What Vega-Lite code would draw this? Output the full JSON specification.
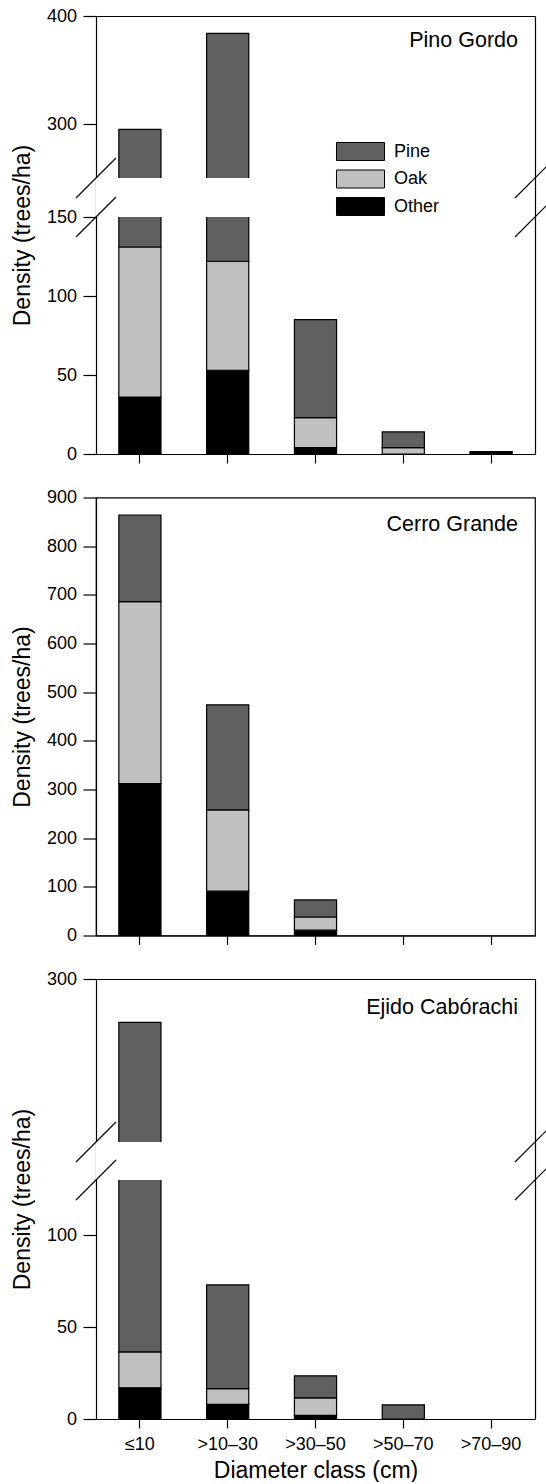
{
  "$schema": "https://vega.github.io/schema/vega-lite/v6.json",
  "padding": {"left": 10, "top": 7, "right": 0, "bottom": 0},
  "datasets": {
    "speciesinfo": [
      {"species": "Other", "stackrank": 1},
      {"species": "Oak", "stackrank": 2},
      {"species": "Pine", "stackrank": 3}
    ],
    "trees": [
      {"site": "Pino Gordo", "dclass": "≤10", "species": "Other", "density": 36},
      {"site": "Pino Gordo", "dclass": "≤10", "species": "Oak", "density": 95},
      {"site": "Pino Gordo", "dclass": "≤10", "species": "Pine", "density": 164},
      {"site": "Pino Gordo", "dclass": ">10–30", "species": "Other", "density": 53},
      {"site": "Pino Gordo", "dclass": ">10–30", "species": "Oak", "density": 69},
      {"site": "Pino Gordo", "dclass": ">10–30", "species": "Pine", "density": 262},
      {"site": "Pino Gordo", "dclass": ">30–50", "species": "Other", "density": 4},
      {"site": "Pino Gordo", "dclass": ">30–50", "species": "Oak", "density": 19},
      {"site": "Pino Gordo", "dclass": ">30–50", "species": "Pine", "density": 62},
      {"site": "Pino Gordo", "dclass": ">50–70", "species": "Other", "density": 0},
      {"site": "Pino Gordo", "dclass": ">50–70", "species": "Oak", "density": 4},
      {"site": "Pino Gordo", "dclass": ">50–70", "species": "Pine", "density": 10},
      {"site": "Pino Gordo", "dclass": ">70–90", "species": "Other", "density": 1.5},
      {"site": "Pino Gordo", "dclass": ">70–90", "species": "Oak", "density": 0},
      {"site": "Pino Gordo", "dclass": ">70–90", "species": "Pine", "density": 0},
      {"site": "Cerro Grande", "dclass": "≤10", "species": "Other", "density": 312},
      {"site": "Cerro Grande", "dclass": "≤10", "species": "Oak", "density": 374},
      {"site": "Cerro Grande", "dclass": "≤10", "species": "Pine", "density": 178},
      {"site": "Cerro Grande", "dclass": ">10–30", "species": "Other", "density": 91},
      {"site": "Cerro Grande", "dclass": ">10–30", "species": "Oak", "density": 167},
      {"site": "Cerro Grande", "dclass": ">10–30", "species": "Pine", "density": 216},
      {"site": "Cerro Grande", "dclass": ">30–50", "species": "Other", "density": 11},
      {"site": "Cerro Grande", "dclass": ">30–50", "species": "Oak", "density": 27},
      {"site": "Cerro Grande", "dclass": ">30–50", "species": "Pine", "density": 35},
      {"site": "Cerro Grande", "dclass": ">50–70", "species": "Other", "density": 0},
      {"site": "Cerro Grande", "dclass": ">50–70", "species": "Oak", "density": 0},
      {"site": "Cerro Grande", "dclass": ">50–70", "species": "Pine", "density": 0},
      {"site": "Cerro Grande", "dclass": ">70–90", "species": "Other", "density": 0},
      {"site": "Cerro Grande", "dclass": ">70–90", "species": "Oak", "density": 0},
      {"site": "Cerro Grande", "dclass": ">70–90", "species": "Pine", "density": 0},
      {"site": "Ejido Cabórachi", "dclass": "≤10", "species": "Other", "density": 17},
      {"site": "Ejido Cabórachi", "dclass": "≤10", "species": "Oak", "density": 19.5},
      {"site": "Ejido Cabórachi", "dclass": "≤10", "species": "Pine", "density": 223.5},
      {"site": "Ejido Cabórachi", "dclass": ">10–30", "species": "Other", "density": 8},
      {"site": "Ejido Cabórachi", "dclass": ">10–30", "species": "Oak", "density": 8.5},
      {"site": "Ejido Cabórachi", "dclass": ">10–30", "species": "Pine", "density": 56.5},
      {"site": "Ejido Cabórachi", "dclass": ">30–50", "species": "Other", "density": 2},
      {"site": "Ejido Cabórachi", "dclass": ">30–50", "species": "Oak", "density": 9.5},
      {"site": "Ejido Cabórachi", "dclass": ">30–50", "species": "Pine", "density": 12},
      {"site": "Ejido Cabórachi", "dclass": ">50–70", "species": "Other", "density": 0},
      {"site": "Ejido Cabórachi", "dclass": ">50–70", "species": "Oak", "density": 0},
      {"site": "Ejido Cabórachi", "dclass": ">50–70", "species": "Pine", "density": 7.7},
      {"site": "Ejido Cabórachi", "dclass": ">70–90", "species": "Other", "density": 0},
      {"site": "Ejido Cabórachi", "dclass": ">70–90", "species": "Oak", "density": 0},
      {"site": "Ejido Cabórachi", "dclass": ">70–90", "species": "Pine", "density": 0}
    ]
  },
  "vconcat": [
    {
      "width": 439,
      "height": 438,
      "title": {"text": "Pino Gordo"},
      "layer": [
        {
          "data": {"name": "trees"},
          "transform": [
            {"filter": "datum.site === 'Pino Gordo' && datum.density > 0"},
            {"lookup": "species", "from": {"data": {"name": "speciesinfo"}, "key": "species", "fields": ["stackrank"]}}
          ],
          "mark": {"type": "bar", "stroke": "#000", "strokeWidth": 1.2},
          "encoding": {
            "x": {"field": "dclass", "type": "nominal", "sort": null,
                  "scale": {"domain": ["≤10", ">10–30", ">30–50", ">50–70", ">70–90"], "paddingInner": 0.52, "paddingOuter": 0.26},
                  "axis": {"title": null, "labels": false, "orient": "bottom"}},
            "y": {"field": "density", "type": "quantitative", "stack": "zero",
                  "scale": {"domain": [0, 150, 250, 400], "range": [438, 201, 162, 0], "zero": false, "nice": false},
                  "axis": {"title": "Density (trees/ha)", "values": [0, 50, 100, 150, 300, 400]}},
            "order": {"field": "stackrank", "type": "quantitative", "sort": "ascending"},
            "color": {"field": "species", "type": "nominal", "sort": ["Pine", "Oak", "Other"],
                      "scale": {"domain": ["Pine", "Oak", "Other"], "range": ["#606060", "#c0c0c0", "#000000"]},
                      "legend": {"orient": "none", "legendX": 255, "legendY": 126, "title": null, "padding": 0,
                                 "symbolType": "M-2.667,-1H2.667V1H-2.667Z", "symbolSize": 324,
                                 "symbolStrokeColor": "#000", "symbolStrokeWidth": 1, "symbolOpacity": 1,
                                 "labelFontSize": 18, "labelColor": "#000", "labelOffset": 24, "rowPadding": 4.5}}
          }
        },
        {
          "data": {"values": [{"lo": 150, "hi": 250}]},
          "mark": {"type": "rect", "fill": "white", "xOffset": -4, "x2Offset": 4},
          "encoding": {
            "y": {"field": "lo", "type": "quantitative",
                  "scale": {"domain": [0, 150, 250, 400], "range": [438, 201, 162, 0], "zero": false, "nice": false},
                  "axis": {"orient": "right", "labels": false, "ticks": false, "title": null}},
            "y2": {"field": "hi"}
          }
        },
        {
          "data": {"values": [{"edge": 0, "brk": 150}, {"edge": 1, "brk": 150}, {"edge": 0, "brk": 250}, {"edge": 1, "brk": 250}]},
          "mark": {"type": "rule", "stroke": "#000", "strokeWidth": 1.2, "xOffset": -20, "x2Offset": 20, "yOffset": 20, "y2Offset": -20},
          "encoding": {
            "x": {"field": "edge", "type": "quantitative", "scale": {"domain": [0, 1], "nice": false, "zero": false},
                  "axis": {"orient": "top", "labels": false, "ticks": false, "title": null}},
            "x2": {"field": "edge"},
            "y": {"field": "brk", "type": "quantitative",
                  "scale": {"domain": [0, 150, 250, 400], "range": [438, 201, 162, 0], "zero": false, "nice": false},
                  "axis": null},
            "y2": {"field": "brk"}
          }
        }
      ],
      "resolve": {"scale": {"x": "independent"}, "axis": {"x": "independent", "y": "independent"}}
    },
    {
      "width": 439,
      "height": 438,
      "title": {"text": "Cerro Grande", "dy": 51},
      "view": {"stroke": "#000", "strokeWidth": 1.2},
      "data": {"name": "trees"},
      "transform": [
        {"filter": "datum.site === 'Cerro Grande' && datum.density > 0"},
        {"lookup": "species", "from": {"data": {"name": "speciesinfo"}, "key": "species", "fields": ["stackrank"]}}
      ],
      "mark": {"type": "bar", "stroke": "#000", "strokeWidth": 1.2},
      "encoding": {
        "x": {"field": "dclass", "type": "nominal", "sort": null,
              "scale": {"domain": ["≤10", ">10–30", ">30–50", ">50–70", ">70–90"], "paddingInner": 0.52, "paddingOuter": 0.26},
              "axis": {"title": null, "labels": false}},
        "y": {"field": "density", "type": "quantitative", "stack": "zero",
              "scale": {"domain": [0, 900], "zero": false, "nice": false},
              "axis": {"title": "Density (trees/ha)", "values": [0, 100, 200, 300, 400, 500, 600, 700, 800, 900]}},
        "order": {"field": "stackrank", "type": "quantitative", "sort": "ascending"},
        "color": {"field": "species", "type": "nominal", "sort": ["Pine", "Oak", "Other"],
                  "scale": {"domain": ["Pine", "Oak", "Other"], "range": ["#606060", "#c0c0c0", "#000000"]},
                  "legend": null}
      }
    },
    {
      "width": 439,
      "height": 440,
      "title": {"text": "Ejido Cabórachi", "dy": 52},
      "layer": [
        {
          "data": {"name": "trees"},
          "transform": [
            {"filter": "datum.site === 'Ejido Cabórachi' && datum.density > 0"},
            {"lookup": "species", "from": {"data": {"name": "speciesinfo"}, "key": "species", "fields": ["stackrank"]}}
          ],
          "mark": {"type": "bar", "stroke": "#000", "strokeWidth": 1.2},
          "encoding": {
            "x": {"field": "dclass", "type": "nominal", "sort": null,
                  "scale": {"domain": ["≤10", ">10–30", ">30–50", ">50–70", ">70–90"], "paddingInner": 0.52, "paddingOuter": 0.26},
                  "axis": {"title": "Diameter class (cm)", "orient": "bottom"}},
            "y": {"field": "density", "type": "quantitative", "stack": "zero",
                  "scale": {"domain": [0, 130, 150, 300], "range": [440, 201, 163, 0], "zero": false, "nice": false},
                  "axis": {"title": "Density (trees/ha)", "values": [0, 50, 100, 300]}},
            "order": {"field": "stackrank", "type": "quantitative", "sort": "ascending"},
            "color": {"field": "species", "type": "nominal", "sort": ["Pine", "Oak", "Other"],
                      "scale": {"domain": ["Pine", "Oak", "Other"], "range": ["#606060", "#c0c0c0", "#000000"]},
                      "legend": null}
          }
        },
        {
          "data": {"values": [{"lo": 130, "hi": 150}]},
          "mark": {"type": "rect", "fill": "white", "xOffset": -4, "x2Offset": 4},
          "encoding": {
            "y": {"field": "lo", "type": "quantitative",
                  "scale": {"domain": [0, 130, 150, 300], "range": [440, 201, 163, 0], "zero": false, "nice": false},
                  "axis": {"orient": "right", "labels": false, "ticks": false, "title": null}},
            "y2": {"field": "hi"}
          }
        },
        {
          "data": {"values": [{"edge": 0, "brk": 130}, {"edge": 1, "brk": 130}, {"edge": 0, "brk": 150}, {"edge": 1, "brk": 150}]},
          "mark": {"type": "rule", "stroke": "#000", "strokeWidth": 1.2, "xOffset": -20, "x2Offset": 20, "yOffset": 20, "y2Offset": -20},
          "encoding": {
            "x": {"field": "edge", "type": "quantitative", "scale": {"domain": [0, 1], "nice": false, "zero": false},
                  "axis": {"orient": "top", "labels": false, "ticks": false, "title": null}},
            "x2": {"field": "edge"},
            "y": {"field": "brk", "type": "quantitative",
                  "scale": {"domain": [0, 130, 150, 300], "range": [440, 201, 163, 0], "zero": false, "nice": false},
                  "axis": null},
            "y2": {"field": "brk"}
          }
        }
      ],
      "resolve": {"scale": {"x": "independent"}, "axis": {"x": "independent", "y": "independent"}}
    }
  ],
  "spacing": 43.5,
  "bounds": "flush",
  "resolve": {"scale": {"color": "shared"}, "legend": {"color": "independent"}},
  "config": {
    "font": "Liberation Sans",
    "view": {"stroke": null},
    "axis": {"domainColor": "#000", "domainWidth": 1.2, "tickColor": "#000", "tickWidth": 1.2,
             "labelColor": "#000", "labelFontSize": 18, "titleFontSize": 23, "titleFontWeight": "normal",
             "titleColor": "#000", "grid": false, "zindex": 0},
    "axisY": {"tickSize": 13, "labelPadding": 6.5, "titlePadding": 12},
    "axisX": {"tickSize": 9, "labelPadding": 7, "titlePadding": 6, "labelAngle": 0},
    "title": {"anchor": "end", "frame": "group", "orient": "top", "offset": 0, "baseline": "top",
              "fontSize": 21.5, "fontWeight": "normal", "color": "#000", "dx": -17, "dy": 48}
  }
}
